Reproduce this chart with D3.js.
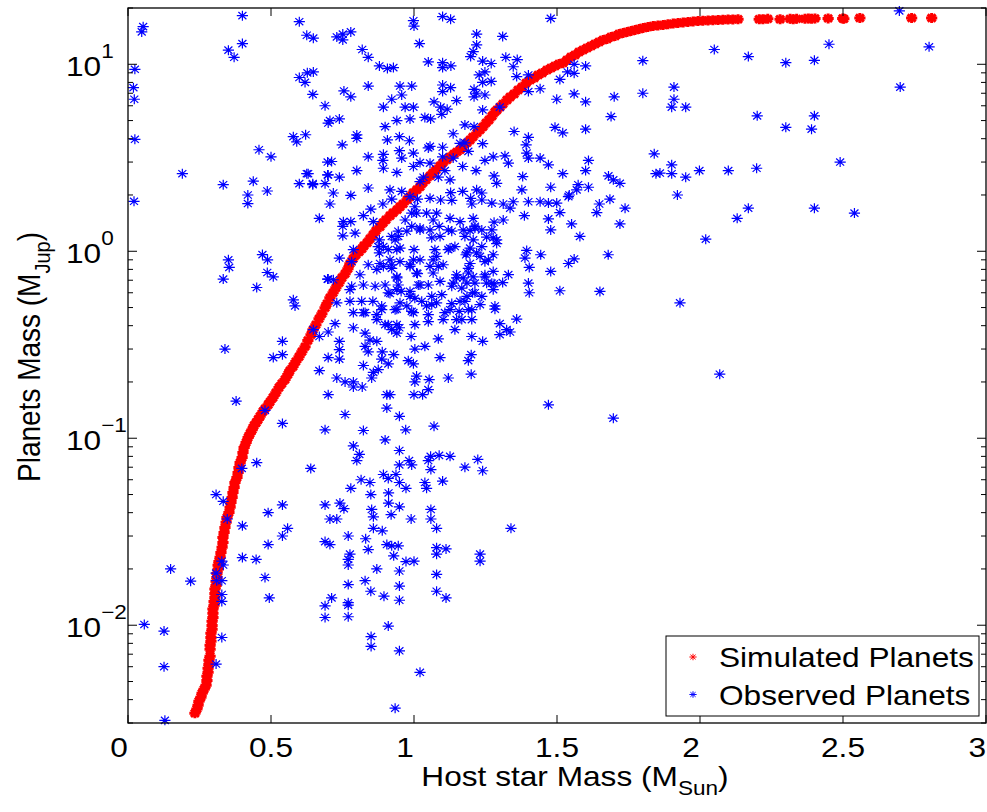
<!DOCTYPE html>
<html>
<head>
<meta charset="utf-8">
<script src="https://cdn.jsdelivr.net/npm/d3@7"></script>
<style>
  body { margin: 0; background: #fff; }
  svg text { font-family: "Liberation Sans", Arial, Helvetica, sans-serif; fill: #000; }
</style>
</head>
<body>
<svg id="chart" width="987" height="812"></svg>
<script>
// axis values
const xTicks = [0, 0.5, 1, 1.5, 2, 2.5, 3];
const yTicks = [0.01, 0.1, 1, 10];
const yTickExponents = ['\u22122', '\u22121', '0', '1'];
const legendLabels = ['Simulated Planets', 'Observed Planets'];

// simulated planets: [host star mass (M_Sun), planet mass (M_Jup)]
const simulated = [
  [0.234,0.00338],[0.241,0.00356],[0.245,0.00373],[0.248,0.00392],[0.255,0.00412],[0.259,0.00433],[0.266,0.00454],[0.273,0.00478],
  [0.276,0.00507],[0.276,0.00533],[0.280,0.00560],[0.280,0.00589],[0.283,0.00618],[0.283,0.00649],[0.287,0.00682],
  [0.287,0.00743],[0.287,0.00781],[0.290,0.00820],[0.290,0.00861],[0.290,0.00905],[0.294,0.00951],[0.294,0.00998],[0.294,0.0105],
  [0.297,0.0110],[0.297,0.0116],[0.297,0.0122],[0.301,0.0128],[0.301,0.0134],[0.304,0.0141],[0.304,0.0148],[0.304,0.0156],
  [0.308,0.0163],[0.308,0.0172],[0.311,0.0180],[0.311,0.0189],[0.315,0.0199],[0.315,0.0209],[0.318,0.0219],[0.322,0.0231],
  [0.325,0.0245],[0.329,0.0261],[0.332,0.0277],[0.332,0.0295],[0.336,0.0313],[0.339,0.0333],[0.343,0.0355],[0.346,0.0377],
  [0.353,0.0401],[0.357,0.0427],[0.360,0.0453],[0.364,0.0482],[0.367,0.0513],[0.371,0.0546],[0.374,0.0579],[0.381,0.0617],
  [0.385,0.0656],[0.388,0.0697],[0.392,0.0741],[0.399,0.0789],[0.402,0.0839],[0.406,0.0891],[0.413,0.0948],[0.420,0.101],
  [0.427,0.106],[0.434,0.111],[0.441,0.117],[0.448,0.121],[0.455,0.126],[0.462,0.131],[0.472,0.139],[0.479,0.144],
  [0.490,0.151],[0.497,0.157],[0.507,0.165],[0.517,0.175],[0.528,0.187],[0.538,0.196],[0.549,0.206],[0.559,0.219],
  [0.566,0.230],[0.577,0.242],[0.587,0.257],[0.598,0.273],[0.608,0.290],[0.619,0.309],[0.629,0.333],[0.640,0.358],
  [0.647,0.381],[0.657,0.405],[0.668,0.436],[0.678,0.463],[0.689,0.499],[0.696,0.525],[0.706,0.565],[0.717,0.600],
  [0.727,0.638],[0.738,0.679],[0.748,0.721],[0.759,0.759],[0.769,0.807],[0.776,0.857],[0.787,0.912],[0.797,0.957],
  [0.808,0.994],[0.818,1.031],[0.825,1.070],[0.836,1.110],[0.846,1.166],[0.857,1.225],[0.867,1.287],[0.881,1.352],
  [0.892,1.420],[0.902,1.473],[0.916,1.547],[0.927,1.606],[0.941,1.666],[0.951,1.729],[0.962,1.793],[0.976,1.884],
  [0.986,1.955],[0.997,2.054],[1.010,2.131],[1.021,2.211],[1.031,2.322],[1.042,2.410],[1.056,2.531],[1.066,2.626],
  [1.077,2.725],[1.091,2.862],[1.101,2.971],[1.115,3.083],[1.126,3.198],[1.140,3.318],[1.150,3.401],[1.161,3.485],
  [1.171,3.616],[1.185,3.798],[1.196,3.940],[1.206,4.090],[1.220,4.296],[1.231,4.459],[1.241,4.626],[1.252,4.860],
  [1.262,5.041],[1.273,5.294],[1.283,5.564],[1.290,5.700],[1.301,5.914],[1.311,6.136],[1.325,6.447],[1.336,6.689],
  [1.350,6.940],[1.364,7.291],[1.378,7.564],[1.392,7.945],[1.406,8.244],[1.420,8.450],[1.434,8.768],[1.448,8.987],
  [1.465,9.324],[1.479,9.555],[1.493,9.793],[1.507,10.04],[1.521,10.16],[1.535,10.54],[1.549,10.94],[1.563,11.21],
  [1.577,11.63],[1.591,11.92],[1.605,12.22],[1.619,12.52],[1.633,12.83],[1.647,13.15],[1.661,13.49],[1.675,13.65],
  [1.689,13.99],[1.703,14.17],[1.717,14.52],[1.731,14.70],[1.745,14.88],[1.759,15.07],[1.773,15.25],[1.787,15.44],
  [1.801,15.63],[1.818,15.82],[1.836,16.02],[1.853,16.12],[1.871,16.22],[1.888,16.38],[1.906,16.50],[1.923,16.63],
  [1.941,16.75],[1.958,16.85],[1.976,16.96],[1.993,17.04],[2.010,17.10],[2.028,17.17],[2.045,17.21],[2.063,17.25],
  [2.080,17.29],[2.098,17.34],[2.115,17.38],[2.133,17.40],
  [2.207,17.4],[2.220,17.4],[2.237,17.5],[2.280,17.4],[2.315,17.5],[2.326,17.4],[2.338,17.5],[2.367,17.5],
  [2.379,17.6],[2.390,17.5],[2.402,17.6],[2.448,17.6],[2.499,17.6],[2.503,17.5],[2.559,17.7],[2.740,17.7],[2.810,17.7]
];

// observed planets: [host star mass (M_Sun), planet mass (M_Jup)]
const observed = [
  [0.40,18.2],[0.053,15.9],[0.048,14.9],[0.599,16.9],[0.625,14.3],[0.648,13.8],[0.351,11.9],[0.371,10.9],[0.40,12.9],
  [0.024,9.4],[0.019,7.5],[0.022,6.5],[0.024,3.97],[0.599,8.5],[0.619,8.0],[0.627,9.0],[0.648,9.1],[0.646,6.9],
  [0.689,6.0],[0.70,4.85],[0.578,4.1],[0.59,3.85],[0.621,4.2],[0.458,3.49],[0.50,3.2],[0.19,2.6],[0.333,2.27],
  [0.438,2.37],[0.419,2.0],[0.419,1.8],[0.487,2.1],[0.599,2.3],[0.63,2.6],[0.646,2.27],[0.698,3.0],[0.698,2.56],
  [0.689,2.3],[0.021,1.85],[0.669,1.5],[0.351,0.90],[0.354,0.82],[0.47,0.96],[0.488,0.90],[0.487,0.77],[0.508,0.73],
  [0.333,0.71],[0.698,0.71],
  [0.998,17.1],[1.00,16.0],[1.10,18.0],[1.128,17.4],[1.478,17.6],[0.73,14.0],[0.751,14.5],[0.751,13.5],[0.779,14.9],
  [0.819,12.0],[0.84,10.9],[1.019,12.9],[1.219,14.5],[1.219,12.7],[1.207,11.7],[1.198,11.0],[1.31,14.1],[0.879,9.8],
  [0.907,9.5],[0.928,9.6],[1.05,10.3],[1.10,10.2],[1.10,9.6],[1.129,9.8],[1.24,10.4],[1.27,10.1],[1.321,10.9],
  [1.361,10.6],[1.347,9.7],[1.359,8.6],[1.40,8.77],[1.228,8.77],[1.248,9.1],[1.24,8.0],[1.27,8.1],[1.21,7.35],
  [1.219,7.0],[1.248,6.85],[1.21,6.7],[0.755,7.2],[0.779,6.7],[0.84,7.65],[0.951,7.65],[0.992,7.65],[1.10,7.75],
  [1.10,7.15],[1.128,7.5],[0.957,6.85],[0.922,6.5],[0.893,5.9],[0.969,5.9],[0.998,5.9],[1.07,6.3],[1.093,5.9],
  [1.116,5.75],[1.149,6.4],[1.097,5.4],[0.706,5.0],[0.739,5.1],[0.94,5.0],[0.986,5.1],[1.038,5.2],[1.058,5.1],
  [1.24,5.7],[1.30,5.9],[1.40,7.15],[1.441,7.4],[1.51,8.3],[1.537,9.1],[1.56,8.95],[1.56,10.0],[1.60,9.8],
  [1.80,10.45],[1.80,7.0],[1.499,6.5],[1.56,6.95],[1.60,6.3],[1.70,6.7],[1.689,5.25],[1.493,4.6],[1.52,4.3],
  [1.60,4.5],[0.899,4.64],[0.80,4.19],[0.80,4.02],[0.749,3.71],[0.907,3.94],[0.949,4.1],[0.984,3.9],[1.137,4.25],
  [1.178,4.74],[1.21,4.64],[1.178,3.8],[1.24,3.76],[1.056,3.64],[1.10,3.6],[1.161,3.78],[1.35,4.37],[1.40,4.07],
  [1.392,3.71],[0.84,3.2],[0.893,3.3],[0.949,3.45],[0.957,3.15],[0.998,3.35],[1.05,3.57],[1.10,3.2],[1.137,3.15],
  [1.19,3.42],[1.394,3.35],[1.40,3.15],[1.318,3.24],[1.441,3.15],[1.277,3.2],[1.248,3.06],[1.33,2.96],[1.47,2.9],
  [1.61,3.06],[1.84,3.32],[1.846,2.6],[0.712,3.02],[0.80,2.7],[0.891,3.06],[0.893,2.78],[0.94,2.64],[1.021,2.98],
  [1.056,2.96],[0.998,2.84],[1.108,2.7],[1.17,2.84],[1.217,2.7],[1.033,2.49],[1.021,2.36],[1.085,2.49],[1.126,2.41],
  [1.28,2.53],[1.289,2.31],[1.38,2.51],[1.377,2.13],[1.52,2.6],[1.60,2.7],[1.68,2.53],[1.697,2.41],[1.72,2.31],
  [1.574,2.27],[1.569,2.13],[1.543,2.0],[1.61,2.2],[1.478,2.2],[0.739,2.49],[0.718,2.05],[0.779,1.99],[0.84,2.18],
  [0.916,2.13],[0.957,2.09],[0.922,1.90],[0.891,1.79],[0.986,1.96],[1.012,1.90],[1.003,1.73],[1.056,1.92],[1.093,1.88],
  [1.128,2.06],[1.132,1.87],[1.17,2.09],[1.198,1.92],[1.219,2.13],[1.237,2.05],[1.202,1.79],[1.237,1.88],[1.272,1.81],
  [1.312,1.79],[1.347,1.84],[1.336,1.70],[1.40,1.84],[1.441,1.84],[1.47,1.81],[1.499,1.81],[1.51,1.61],[1.54,1.96],
  [1.648,1.79],[1.685,1.90],[1.738,1.70],[1.639,1.61],[1.386,1.55],[1.312,1.47],[1.28,1.43],[1.47,1.49],[1.478,1.30],
  [1.551,1.40],[1.58,1.20],[1.72,1.40],[1.679,0.958],[1.394,1.01],[1.388,0.92],[1.443,0.958],[1.54,0.86],[1.56,0.91],
  [1.403,0.82],[1.478,0.78],[1.33,0.75],[0.706,1.79],[0.753,1.44],[0.751,1.21],[0.751,1.36],[0.779,1.44],[0.794,1.25],
  [0.823,1.55],[0.849,1.68],[0.858,1.44],[0.879,1.15],[0.922,1.20],[0.945,1.28],[0.951,1.04],[0.969,1.47],[0.992,1.60],
  [0.992,1.36],[1.009,1.60],[1.021,1.30],[1.044,1.60],[1.056,1.30],[1.067,1.47],[1.079,1.60],[1.088,1.36],[1.12,1.30],
  [1.126,1.50],[1.161,1.44],[1.172,1.30],[1.196,1.29],[1.213,1.36],[1.237,1.30],[1.178,1.20],[1.254,1.19],[1.289,1.15],
  [0.739,0.92],[0.782,0.88],[0.84,0.847],[0.879,0.98],[0.893,0.83],[0.922,0.847],[0.951,0.88],[0.986,0.847],[1.00,1.02],
  [1.021,0.90],[1.056,0.83],[1.079,0.94],[1.102,0.847],[1.126,1.04],[1.143,1.06],[1.182,0.958],[1.196,1.04],[1.219,0.98],
  [1.248,0.88],[1.277,0.958],[1.067,0.765],[1.149,0.72],[1.19,0.765],[1.248,0.73],[0.811,0.749],[0.94,0.73],[1.012,0.76],
  [0.625,2.6],[0.646,2.3],[0.70,2.56],[0.788,1.02],[0.70,0.71],[0.718,0.704],[0.73,0.53],[0.724,0.41],[0.776,0.54],
  [0.823,0.66],[0.782,0.65],[0.788,0.47],[0.817,0.54],[0.856,0.54],[0.823,0.47],[0.864,0.65],[0.87,0.80],[0.875,1.06],
  [0.893,1.06],[0.91,1.02],[0.934,1.15],[0.916,0.90],[0.881,0.86],[0.899,0.66],[0.91,0.60],[0.94,0.72],[0.922,0.81],
  [0.94,1.02],[0.945,1.20],[0.975,1.28],[0.986,0.83],[0.998,0.90],[1.009,0.765],[0.94,0.623],[0.986,0.574],[1.003,0.56],
  [0.951,0.53],[0.975,0.51],[1.05,0.66],[1.015,0.66],[1.062,0.574],[1.097,0.586],[1.079,0.53],[1.044,0.51],[0.934,0.487],
  [0.887,0.487],[0.87,0.431],[0.899,0.405],[0.94,0.405],[0.998,0.47],[1.003,0.405],[1.05,0.42],[1.102,0.431],[1.149,0.431],
  [1.126,0.487],[1.19,0.487],[1.161,0.54],[1.205,0.60],[1.237,0.574],[1.254,0.675],[1.172,0.72],[1.132,0.65],[1.091,0.69],
  [1.085,0.83],[1.067,0.90],[1.073,1.02],[1.12,1.02],[1.185,0.98],[1.196,0.86],[1.231,0.94],[1.26,0.90],[1.289,1.10],
  [1.237,1.06],[1.207,1.15],[1.132,1.28],[1.091,1.20],[1.062,1.18],[1.021,1.33],[1.207,1.50],[1.213,1.33],[1.272,1.30],
  [1.277,1.18],[1.19,0.81],[1.248,0.749],[1.277,0.78],[1.272,0.675],[1.277,0.623],[1.283,0.51],[1.207,0.73],[1.167,0.635],
  [1.149,0.749],[1.185,0.574],
  [0.945,0.66],[1.021,0.66],[1.137,0.676],[1.185,0.676],[1.213,0.676],[1.28,0.67],[1.31,0.68],[1.40,0.676],[1.403,0.60],
  [1.51,0.615],[1.65,0.61],[0.776,0.623],[0.887,0.51],[0.916,0.594],[0.955,0.61],[0.986,0.61],[0.94,0.49],[0.992,0.477],
  [1.027,0.54],[1.05,0.458],[1.062,0.518],[1.108,0.47],[1.132,0.525],[1.158,0.477],[1.178,0.54],[1.167,0.431],[1.202,0.487],
  [1.202,0.431],[1.213,0.60],[1.231,0.518],[1.283,0.49],[1.30,0.41],[1.324,0.381],[1.30,0.358],[1.336,0.37],[1.359,0.434],
  [1.24,0.33],[1.202,0.35],[1.143,0.381],[1.085,0.34],[1.091,0.27],[1.20,0.28],[1.19,0.26],[1.20,0.22],[1.12,0.21],
  [1.038,0.31],[1.003,0.30],[0.98,0.26],[0.998,0.25],[0.99,0.35],[0.949,0.39],[0.94,0.365],[0.922,0.381],[0.91,0.405],
  [0.87,0.458],[0.829,0.47],[0.788,0.39],[0.829,0.365],[0.846,0.335],[0.87,0.33],[0.829,0.31],[0.84,0.29],[0.889,0.29],
  [0.887,0.265],[0.929,0.28],[0.91,0.25],[0.823,0.245],[0.858,0.225],[0.875,0.233],[0.852,0.21],[0.73,0.21],[0.739,0.33],
  [0.739,0.298],[0.739,0.265],[0.759,0.20],[0.788,0.20],[0.788,0.188],[0.819,0.188],[0.905,0.171],[0.916,0.171],[1.00,0.171],
  [1.03,0.171],[1.05,0.182],[1.009,0.215],[1.003,0.20],[1.053,0.206],[1.47,0.151],[1.697,0.128],[0.905,0.145],[0.759,0.134],
  [0.949,0.131],[0.823,0.110],[0.971,0.111],[1.07,0.116],[0.899,0.098],[0.788,0.091],[0.809,0.082],[0.80,0.076],[0.949,0.086],
  [0.949,0.072],[0.983,0.076],[0.992,0.072],[1.05,0.076],[1.058,0.080],[1.088,0.081],[1.126,0.080],[1.223,0.077],[1.178,0.070],
  [1.24,0.067],[1.059,0.068],[0.893,0.064],[0.91,0.061],[0.937,0.064],[0.815,0.060],[0.846,0.058],[0.949,0.058],[0.972,0.054],
  [1.038,0.058],[1.044,0.054],[1.10,0.059],[0.779,0.054],[0.849,0.050],[0.911,0.051],[0.911,0.045],[0.949,0.043],[0.741,0.045],
  [0.755,0.042],[0.852,0.0416],[0.858,0.038],[0.92,0.039],[0.99,0.037],[1.059,0.0416],[1.059,0.037],[1.079,0.033],[0.858,0.033],
  [0.889,0.032],[0.706,0.037],[0.73,0.037],[0.77,0.030],[0.831,0.029],[0.706,0.027],[0.84,0.0254],[0.905,0.027],[0.922,0.0266],
  [0.945,0.0266],[1.079,0.026],[1.112,0.0256],[1.079,0.024],[1.231,0.024],[1.339,0.033],[0.776,0.024],[0.929,0.0235],
  [1.231,0.022],[0.77,0.0225],[0.77,0.021],[0.972,0.0219],[1.00,0.022],[0.87,0.020],[0.949,0.0195],[1.079,0.0187],[0.829,0.0173],
  [0.77,0.0165],[0.949,0.0162],[0.849,0.0152],[0.895,0.0143],[1.079,0.0152],[1.112,0.0140],[0.712,0.0140],[0.949,0.0136],
  [0.77,0.0132],[0.77,0.0128],[0.77,0.0111],[0.91,0.0099],[0.85,0.0087],[0.85,0.0077],[0.949,0.0073],[1.021,0.0056],[0.934,0.0036],
  [0.45,0.64],[0.578,0.55],[0.584,0.51],[0.648,0.381],[0.669,0.35],[0.70,0.37],[0.54,0.33],[0.508,0.27],[0.54,0.28],
  [0.339,0.30],[0.669,0.23],[0.70,0.27],[0.70,0.171],[0.378,0.158],[0.479,0.141],[0.54,0.12],[0.689,0.111],[0.45,0.074],
  [0.639,0.069],[0.398,0.069],[0.308,0.050],[0.333,0.046],[0.347,0.037],[0.40,0.034],[0.49,0.040],[0.54,0.044],[0.558,0.033],
  [0.54,0.030],[0.49,0.027],[0.689,0.044],[0.689,0.028],[0.40,0.023],[0.448,0.0225],
  [0.328,0.022],[0.333,0.021],[0.308,0.019],[0.31,0.0173],[0.328,0.0173],[0.219,0.0172],[0.479,0.018],[0.494,0.014],
  [0.328,0.0146],[0.328,0.0134],[0.328,0.0086],[0.308,0.0062],[0.689,0.0127],[0.689,0.0110],
  [0.149,0.020],[0.057,0.0101],[0.126,0.0093],[0.126,0.0060],[0.129,0.0031],
  [2.697,19.3],[2.451,12.8],[2.801,12.4],[2.05,12.0],[2.169,11.0],[2.30,10.2],[2.40,10.5],[2.70,7.55],[1.909,7.55],
  [1.909,6.5],[1.901,5.9],[1.95,5.9],[2.20,5.3],[2.30,4.6],[2.40,5.3],[2.39,4.5],[2.49,3.0],[2.198,2.78],[2.099,2.7],
  [1.998,2.7],[1.901,2.9],[1.901,2.6],[1.95,2.49],[1.86,2.62],[1.921,2.0],[2.169,1.70],[2.13,1.50],[2.40,1.70],
  [2.54,1.60],[2.02,1.16],[1.93,0.53],[2.069,0.22]
];

const PLOT_LEFT = 128, PLOT_RIGHT = 986, PLOT_TOP = 8, PLOT_BOTTOM = 723;
const TEXT_STRETCH = 1.13;   // the figure's lettering is wider than it is tall
const STAR = 'M-5.6,0H5.6M0,-5V5M-4,-3.6L4,3.6M-4,3.6L4,-3.6';

const svg = d3.select('#chart');
const x = d3.scaleLinear().domain([0, 3]).range([PLOT_LEFT, PLOT_RIGHT]);
const y = d3.scaleLog().domain([0.003, 20]).range([PLOT_BOTTOM, PLOT_TOP]);

svg.append('rect').attr('width', 987).attr('height', 812).attr('fill', '#fff');

function stretchedText(parent, tx, ty, extra) {
  return parent.append('g')
    .attr('transform', 'translate(' + tx + ',' + ty + ') scale(' + TEXT_STRETCH + ',1)' + (extra || ''))
    .append('text');
}

// markers
const plot = svg.append('g');
plot.selectAll('.sim').data(simulated).enter().append('path')
  .attr('class', 'sim')
  .attr('transform', d => 'translate(' + x(d[0]) + ',' + y(d[1]) + ')')
  .attr('d', STAR)
  .attr('fill', 'none')
  .attr('stroke', '#ff0000')
  .attr('stroke-width', 3);

plot.selectAll('.obs').data(observed).enter().append('path')
  .attr('class', 'obs')
  .attr('transform', d => 'translate(' + x(d[0]) + ',' + y(d[1]) + ')')
  .attr('d', STAR)
  .attr('fill', 'none')
  .attr('stroke', '#0000ff')
  .attr('stroke-width', 1.2);

// ticks on all four sides, pointing inward
const ticks = svg.append('g').attr('stroke', '#000').attr('stroke-width', 1);
xTicks.forEach(function(t) {
  ticks.append('line').attr('x1', x(t)).attr('x2', x(t)).attr('y1', PLOT_BOTTOM).attr('y2', PLOT_BOTTOM - 8);
  ticks.append('line').attr('x1', x(t)).attr('x2', x(t)).attr('y1', PLOT_TOP).attr('y2', PLOT_TOP + 8);
});
y.ticks().forEach(function(t) {
  const major = Math.abs(Math.log10(t) - Math.round(Math.log10(t))) < 1e-9;
  const len = major ? 9 : 5;
  ticks.append('line').attr('x1', PLOT_LEFT).attr('x2', PLOT_LEFT + len).attr('y1', y(t)).attr('y2', y(t));
  ticks.append('line').attr('x1', PLOT_RIGHT).attr('x2', PLOT_RIGHT - len).attr('y1', y(t)).attr('y2', y(t));
});

// frame
svg.append('rect')
  .attr('x', PLOT_LEFT).attr('y', PLOT_TOP)
  .attr('width', PLOT_RIGHT - PLOT_LEFT).attr('height', PLOT_BOTTOM - PLOT_TOP)
  .attr('fill', 'none').attr('stroke', '#000').attr('stroke-width', 1.3);

// tick labels (whole numbers sit a little left of their tick, as in the figure)
const xLabels = svg.append('g');
xTicks.forEach(function(t, i) {
  const last = i === xTicks.length - 1;
  const shift = Number.isInteger(t) ? -9 : 0;
  stretchedText(xLabels, last ? PLOT_RIGHT : x(t) + shift, 757)
    .attr('text-anchor', last ? 'end' : 'middle')
    .attr('font-size', 28)
    .text(d3.format('~g')(t));
});

const yLabels = svg.append('g');
yTicks.forEach(function(t, i) {
  const lab = stretchedText(yLabels, 66, y(t) + 12).attr('font-size', 28);
  lab.append('tspan').text('10');
  lab.append('tspan').attr('dy', -18).attr('font-size', 20).text(yTickExponents[i]);
});

// axis titles
const xTitle = stretchedText(svg, 575, 786).attr('text-anchor', 'middle').attr('font-size', 28);
xTitle.append('tspan').text('Host star Mass (M');
xTitle.append('tspan').attr('dy', 9).attr('font-size', 20).text('Sun');
xTitle.append('tspan').attr('dy', -9).text(')');

const yTitle = stretchedText(svg, 40, 357, ' rotate(-90)').attr('text-anchor', 'middle').attr('font-size', 28);
yTitle.append('tspan').text('Planets Mass (M');
yTitle.append('tspan').attr('dy', 9).attr('font-size', 20).text('Jup');
yTitle.append('tspan').attr('dy', -9).text(')');

// legend
const legend = svg.append('g');
legend.append('rect')
  .attr('x', 666).attr('y', 636).attr('width', 313).attr('height', 80)
  .attr('fill', '#fff').attr('stroke', '#000').attr('stroke-width', 1);
const legendColors = ['#ff0000', '#0000ff'];
legendLabels.forEach(function(label, i) {
  const cy = 657 + i * 37.5;
  legend.append('path')
    .attr('transform', 'translate(693,' + cy + ') scale(0.65)')
    .attr('d', STAR).attr('fill', 'none')
    .attr('stroke', legendColors[i]).attr('stroke-width', 1.5);
  stretchedText(legend, 719, cy + 10)
    .attr('font-size', 28)
    .text(label);
});
</script>
</body>
</html>
